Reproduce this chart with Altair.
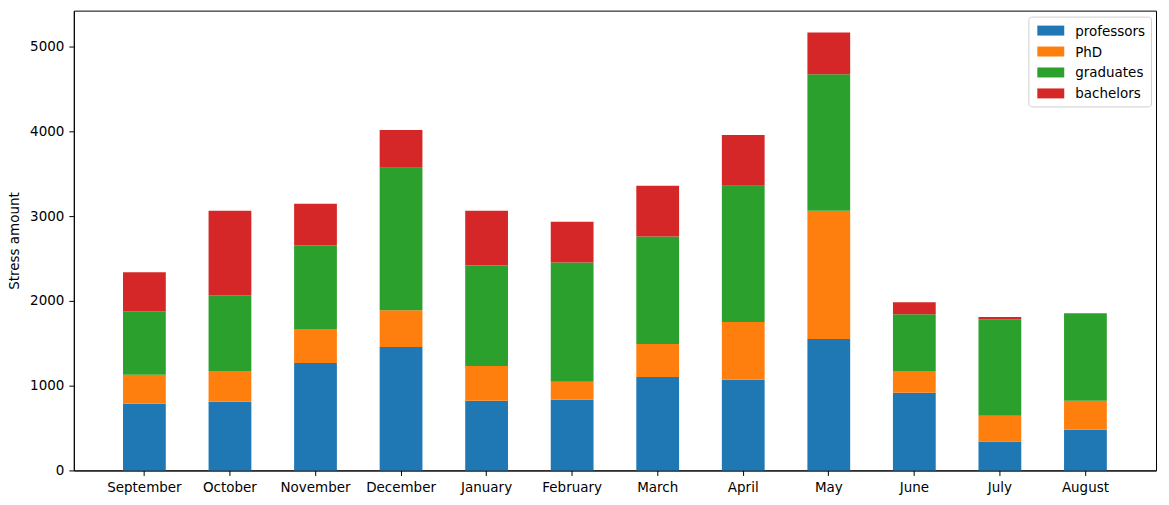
import altair as alt
import pandas as pd

months = ["September", "October", "November", "December", "January", "February",
          "March", "April", "May", "June", "July", "August"]
groups = ["professors", "PhD", "graduates", "bachelors"]
professors = [786, 810, 1268, 1455, 822, 833, 1103, 1068, 1549, 915, 340, 481]
phd = [341, 364, 399, 435, 410, 212, 388, 681, 1514, 259, 306, 341]
graduates = [751, 892, 986, 1678, 1186, 1408, 1267, 1608, 1608, 669, 1138, 1032]
bachelors = [458, 997, 493, 446, 645, 481, 599, 598, 493, 141, 24, 0]
colors = ["#1f77b4", "#ff7f0e", "#2ca02c", "#d62728"]

series = [professors, phd, graduates, bachelors]
rows = []
for gi, (g, vals) in enumerate(zip(groups, series)):
    for m, v in zip(months, vals):
        rows.append({"month": m, "group": g, "order": gi, "value": v})
df = pd.DataFrame(rows)

chart = alt.Chart(df).mark_bar().encode(
    x=alt.X("month:N", sort=months,
            scale=alt.Scale(paddingInner=0.5, paddingOuter=0.575),
            axis=alt.Axis(title=None, labelAngle=0, labelFontSize=13.5,
                          labelColor="black", tickColor="black", tickSize=5,
                          labelPadding=5, domainColor="black")),
    y=alt.Y("value:Q", stack="zero",
            scale=alt.Scale(domain=[0, 5422], nice=False, zero=True),
            axis=alt.Axis(title="Stress amount", values=[0, 1000, 2000, 3000, 4000, 5000],
                          format="d", grid=False, labelFontSize=13.5, titleFontSize=13.5,
                          titleFontWeight="normal", labelColor="black", titleColor="black",
                          tickColor="black", tickSize=5, labelPadding=5,
                          titlePadding=8, domainColor="black")),
    color=alt.Color("group:N", scale=alt.Scale(domain=groups, range=colors),
                    sort=groups,
                    legend=alt.Legend(title=None, orient="none", legendX=957, legendY=6,
                                      labelFontSize=13.5, labelColor="black",
                                      symbolType="M-0.6,-0.6L2.1,-0.6L2.1,0.4L-0.6,0.4Z",
                                      symbolSize=400, symbolStrokeWidth=0,
                                      fillColor="white", strokeColor="#d0d0d0",
                                      cornerRadius=3, padding=5, rowPadding=4,
                                      labelOffset=22)),
    order=alt.Order("order:Q", sort="ascending"),
).properties(
    width=1085, height=461,
    autosize=alt.AutoSizeParams(type="none"),
    padding={"left": 66, "top": 2, "right": 5, "bottom": 30},
).configure(
    font="DejaVu Sans"
).configure_view(
    stroke="black", strokeWidth=1
)

chart.save("out.html", embed_options={"renderer": "svg", "actions": False})
